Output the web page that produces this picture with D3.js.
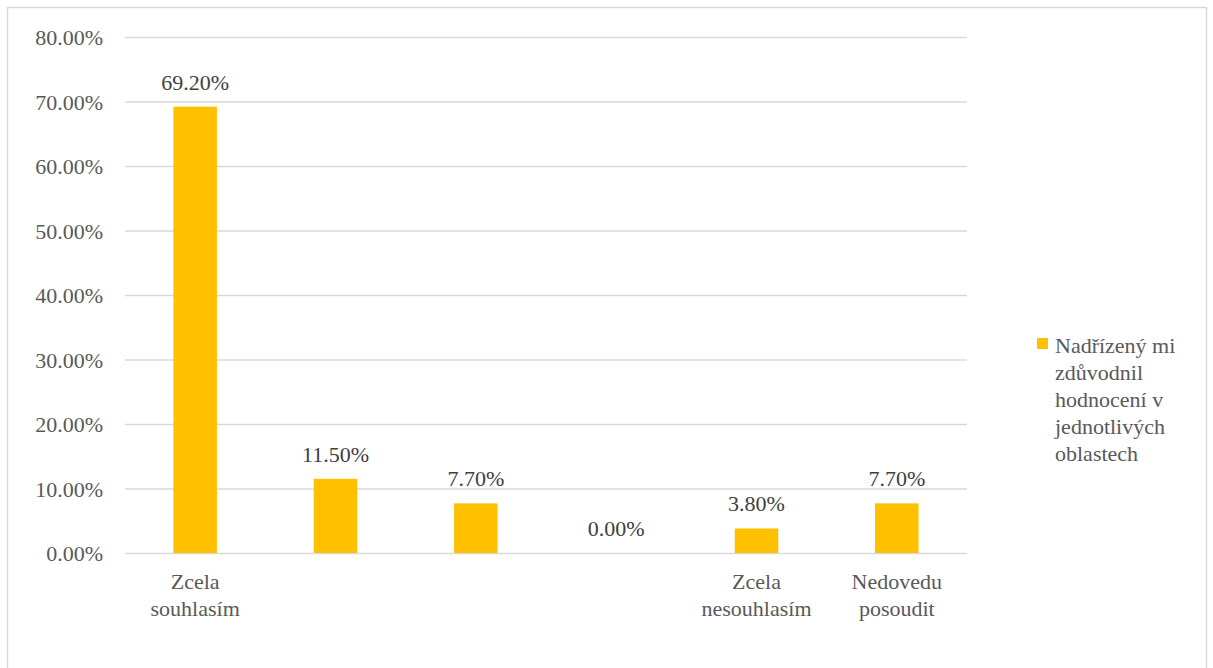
<!DOCTYPE html>
<html><head><meta charset="utf-8">
<script src="https://cdn.jsdelivr.net/npm/d3@7"></script>
<style>body{margin:0;background:#fff}svg{display:block}</style>
</head><body>
<script>
const categories = ["Zcela souhlasím", "c2", "c3", "c4", "Zcela nesouhlasím", "Nedovedu posoudit"];
const categoryLabels = [["Zcela", "souhlasím"], [], [], [], ["Zcela", "nesouhlasím"], ["Nedovedu", "posoudit"]];
const values = [0.692, 0.115, 0.077, 0.0, 0.038, 0.077];
const yTicks = [0, 0.1, 0.2, 0.3, 0.4, 0.5, 0.6, 0.7, 0.8];
const seriesName = ["Nadřízený mi", "zdůvodnil", "hodnocení v", "jednotlivých", "oblastech"];

const FONT = "'Liberation Serif', 'DejaVu Serif', serif";
const FS = 22;
const W = 1213, H = 668;
const svg = d3.select("body").append("svg").attr("width", W).attr("height", H)
  .attr("font-family", FONT);
svg.append("rect").attr("x", 7.5).attr("y", 7.5).attr("width", 1199).attr("height", 700)
  .attr("fill", "#fff").attr("stroke", "#d9d9d9").attr("stroke-width", 1.5);

const x = d3.scaleBand().domain(categories).range([125, 967]).paddingInner(0.69).paddingOuter(0.345);
const y = d3.scaleLinear().domain([0, 0.8]).range([553, 37]);
const fmt = d => (d * 100).toFixed(2) + "%";

const yAxis = svg.append("g").attr("transform", "translate(125,0)")
  .call(d3.axisLeft(y).tickValues(yTicks).tickFormat(fmt).tickSize(-842).tickPadding(22));
yAxis.attr("font-family", FONT).attr("font-size", FS);
yAxis.select(".domain").remove();
yAxis.selectAll("line").attr("stroke", "#d9d9d9").attr("stroke-width", 1.3);
yAxis.selectAll("text").attr("fill", "#595959").attr("dy", "0.35em");

svg.selectAll("rect.bar").data(values).join("rect").attr("class", "bar")
  .attr("x", (d, i) => x(categories[i])).attr("width", x.bandwidth())
  .attr("y", d => y(d)).attr("height", d => y(0) - y(d)).attr("fill", "#ffc000");

svg.selectAll("text.lbl").data(values).join("text").attr("class", "lbl")
  .attr("x", (d, i) => x(categories[i]) + x.bandwidth() / 2)
  .attr("y", d => y(d) - 17).attr("text-anchor", "middle").attr("font-size", FS)
  .attr("fill", "#404040").text(fmt);

categoryLabels.forEach((lines, i) => {
  lines.forEach((t, j) => {
    svg.append("text").attr("x", x(categories[i]) + x.bandwidth() / 2)
      .attr("y", 589 + j * 27).attr("text-anchor", "middle").attr("font-size", FS)
      .attr("fill", "#595959").text(t);
  });
});

svg.append("rect").attr("x", 1037).attr("y", 338).attr("width", 11).attr("height", 11).attr("fill", "#ffc000");
seriesName.forEach((t, j) => {
  svg.append("text").attr("x", 1055).attr("y", 353 + j * 27).attr("font-size", FS)
    .attr("fill", "#595959").text(t);
});
</script>
</body></html>
